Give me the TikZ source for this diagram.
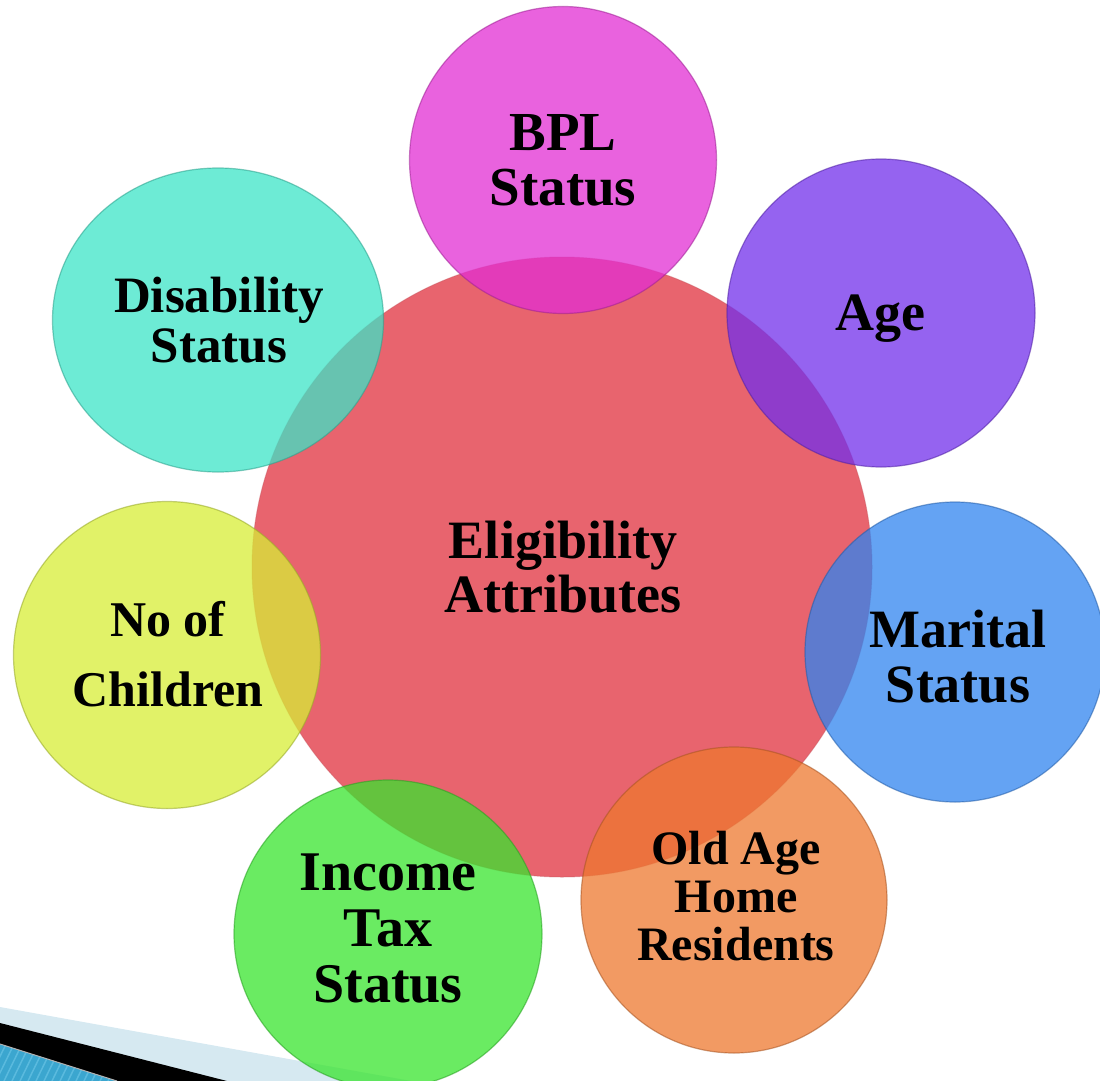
\documentclass[tikz,border=0pt]{standalone}
\usepackage{fontspec}
\setmainfont{Liberation Serif}
\usetikzlibrary{shapes.geometric}
\definecolor{centrec}{RGB}{232,100,110}
\definecolor{bplc}{RGB}{226,46,211}
\definecolor{agec}{RGB}{114,47,235}
\definecolor{marc}{RGB}{48,132,239}
\definecolor{oldc}{RGB}{238,120,47}
\definecolor{incc}{RGB}{56,228,46}
\definecolor{chic}{RGB}{215,238,54}
\definecolor{disc}{RGB}{60,228,199}
\definecolor{chevlight}{RGB}{214,233,241}
\definecolor{chevblue}{RGB}{59,166,207}
\definecolor{chevstripe}{RGB}{90,186,222}
\begin{document}
\begin{tikzpicture}[x=1pt,y=-1pt,
  bubble/.style={circle, inner sep=0pt, fill opacity=0.75, draw opacity=0.55, line width=1.2pt},
  lbl/.style={align=center, anchor=base, text=black, inner sep=0pt, text opacity=1, font=\bfseries}]
\useasboundingbox (0,0) rectangle (1100,1081);
% chevron bullet, bottom left
\fill[chevlight] (0,1007) -- (411,1081) -- (0,1081) -- cycle;
\fill[black] (0,1023) -- (227,1081) -- (0,1081) -- cycle;
\begin{scope}
  \clip (0,1044) -- (117,1081) -- (0,1081) -- cycle;
  \fill[chevblue] (0,1040) rectangle (120,1081);
  \foreach \i in {0,8,...,140} {\draw[chevstripe, line width=1.5pt] (\i-20,1081) -- (\i,1040);}
\end{scope}
\draw[gray!60, line width=1pt] (0,1044) -- (117,1081);
% central circle
\node[circle, inner sep=0pt, minimum size=620pt, fill=centrec, draw=centrec!85!black, draw opacity=0.4, line width=1pt] (centre) at (562,567) {};
% satellites
\node[bubble, fill=bplc, draw=bplc!70!black, minimum size=307pt] (bpl) at (563,160) {};
\node[bubble, fill=agec, draw=agec!70!black, minimum size=308pt] (age) at (881,313) {};
\node[bubble, fill=marc, draw=marc!70!black, minimum size=300pt] (mar) at (955,652) {};
\node[bubble, fill=oldc, draw=oldc!70!black, minimum size=306pt] (old) at (734,900) {};
\node[bubble, fill=incc, draw=incc!70!black, minimum size=308pt] (inc) at (388,934) {};
\node[bubble, fill=chic, draw=chic!70!black, minimum size=307pt] (chi) at (167,655) {};
\node[bubble, ellipse, fill=disc, draw=disc!70!black, minimum width=331pt, minimum height=304pt] (dis) at (218,320) {};
% labels (anchor base = baseline of the last line)
\node[lbl, font=\fontsize{54}{54}\selectfont\bfseries] (centret) at (563,612) {Eligibility\\Attributes};
\node[lbl, font=\fontsize{55}{55}\selectfont\bfseries] (bplt) at (563,205) {BPL\\Status};
\node[lbl, font=\fontsize{54}{54}\selectfont\bfseries] (aget) at (880,330) {Age};
\node[lbl, font=\fontsize{54}{55}\selectfont\bfseries] (mart) at (958,702) {Marital\\Status};
\node[lbl, font=\fontsize{48}{48}\selectfont\bfseries] (oldt) at (736,960) {Old Age\\Home\\Residents};
\node[lbl, font=\fontsize{56}{56}\selectfont\bfseries] (inct) at (388,1002) {Income\\Tax\\Status};
\node[lbl, font=\fontsize{50}{70}\selectfont\bfseries] (chit) at (168,706) {No of\\Children};
\node[lbl, font=\fontsize{51}{50}\selectfont\bfseries] (dist) at (219,362) {Disability\\Status};
\end{tikzpicture}
\end{document}
